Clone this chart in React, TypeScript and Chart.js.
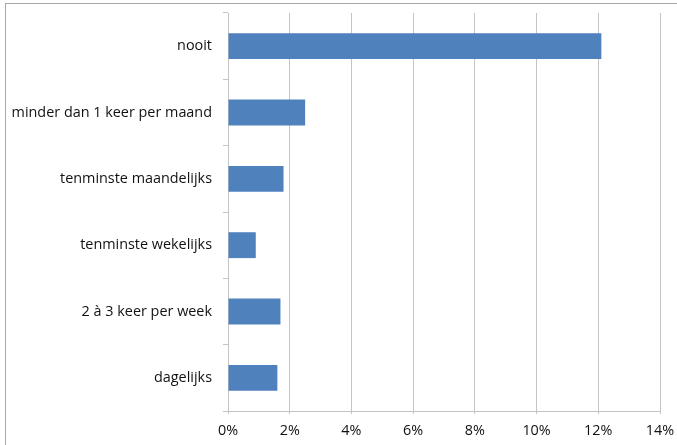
import React, { useEffect, useRef } from "react";
import { Chart, registerables } from "chart.js";

Chart.register(...registerables);

const categories = [
  "nooit",
  "minder dan 1 keer per maand",
  "tenminste maandelijks",
  "tenminste wekelijks",
  "2 à 3 keer per week",
  "dagelijks",
];
const values = [12.1, 2.5, 1.8, 0.9, 1.7, 1.6];
const xMin = 0;
const xMax = 14;
const xStep = 2;

export default function App() {
  const ref = useRef<HTMLCanvasElement>(null);

  useEffect(() => {
    document.body.style.margin = "0";
    const font = { family: "'Open Sans', 'Liberation Sans', sans-serif", size: 14.4 };
    const chart = new Chart(ref.current!, {
      type: "bar",
      data: {
        labels: categories,
        datasets: [
          {
            data: values,
            backgroundColor: "#4F81BD",
            borderWidth: 0,
            barPercentage: 0.39,
            categoryPercentage: 1,
          },
        ],
      },
      options: {
        indexAxis: "y",
        animation: false,
        responsive: false,
        maintainAspectRatio: false,
        layout: { padding: { top: 13, right: 17, bottom: 0, left: 0 } },
        plugins: { legend: { display: false }, tooltip: { enabled: false } },
        scales: {
          x: {
            min: xMin,
            max: xMax,
            afterFit: (axis: any) => {
              axis.height = 34;
              axis.paddingLeft = 0;
              axis.paddingRight = 0;
            },
            ticks: {
              stepSize: xStep,
              color: "#111",
              font,
              padding: 8,
              callback: (v: any) => v + "%",
            },
            grid: { color: "#C4C4C4", lineWidth: 1, tickLength: 3 },
            border: { color: "#C4C4C4" },
          },
          y: {
            afterFit: (axis: any) => {
              axis.width = 228;
              axis.paddingTop = 0;
              axis.paddingBottom = 0;
            },
            ticks: { color: "#111", font, padding: 11 },
            grid: { drawOnChartArea: false, offset: true, tickLength: 5, color: "#C4C4C4" },
            border: { color: "#C4C4C4" },
          },
        },
      },
    });
    return () => chart.destroy();
  }, []);

  return (
    <div style={{ position: "relative", width: 677, height: 445, overflow: "hidden", background: "#fff" }}>
      <div
        style={{
          position: "absolute",
          left: 5,
          top: 3,
          width: 720,
          height: 500,
          border: "1px solid #A8A8A8",
        }}
      />
      <canvas ref={ref} width={677} height={445} style={{ position: "absolute", left: 0, top: 0 }} />
    </div>
  );
}
